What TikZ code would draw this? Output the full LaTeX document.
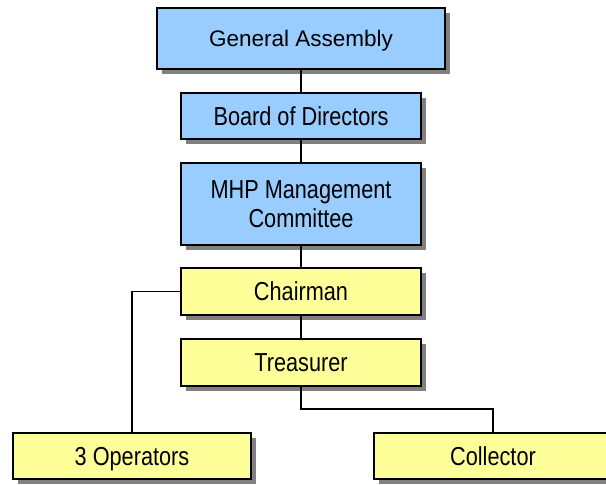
\documentclass[tikz,border=0pt]{standalone}
\usepackage{fontspec}
\setmainfont{Liberation Sans}
\usetikzlibrary{shadows}
\definecolor{boxblue}{RGB}{153,204,255}
\definecolor{boxyellow}{RGB}{255,255,153}
\definecolor{shadowgray}{RGB}{128,128,128}
\newcommand\narrowtxt[1]{\scalebox{0.835}[1]{#1}}
\tikzset{
  orgbox/.style={draw=black, line width=2pt, inner sep=0pt, align=center,
    drop shadow={shadow xshift=5pt, shadow yshift=-5pt, fill=shadowgray, opacity=1},
    font=\fontsize{26}{29}\selectfont},
  oneline/.style={text depth=0pt},
  bluebox/.style={orgbox, fill=boxblue},
  yellowbox/.style={orgbox, fill=boxyellow, oneline},
  link/.style={draw=black, line width=1.5pt},
}
\begin{document}
\begin{tikzpicture}[x=1pt,y=-1pt]
\useasboundingbox (0,0) rectangle (606,485);
\clip (0,0) rectangle (606,485);
\node[bluebox, oneline, minimum width=288pt, minimum height=61pt, font=\fontsize{22.5}{26}\selectfont] (ga) at (301,38.5) {General Assembly};
\node[bluebox, oneline, minimum width=240pt, minimum height=46pt] (bod) at (301,116) {\narrowtxt{Board of Directors}};
\node[bluebox, minimum width=240pt, minimum height=82pt] (mhp) at (301,204) {\narrowtxt{MHP Management}\\\narrowtxt{Committee}};
\node[yellowbox, minimum width=240pt, minimum height=47pt] (chair) at (301,291.5) {\narrowtxt{Chairman}};
\node[yellowbox, minimum width=240pt, minimum height=47pt] (treas) at (301,362.5) {\narrowtxt{Treasurer}};
\node[yellowbox, minimum width=238pt, minimum height=46pt] (ops) at (132,456) {\narrowtxt{3 Operators}};
\node[yellowbox, minimum width=238pt, minimum height=46pt] (coll) at (493,456) {\narrowtxt{Collector}};
\coordinate (tj) at (301,409);
\draw[link] (ga.south) -- (bod.north);
\draw[link] (bod.south) -- (mhp.north);
\draw[link] (mhp.south) -- (chair.north);
\draw[link] (chair.south) -- (treas.north);
\draw[link] (chair.west) -| (ops.north);
\draw[link] (treas.south) -- (tj) -| (coll.north);
\end{tikzpicture}
\end{document}
